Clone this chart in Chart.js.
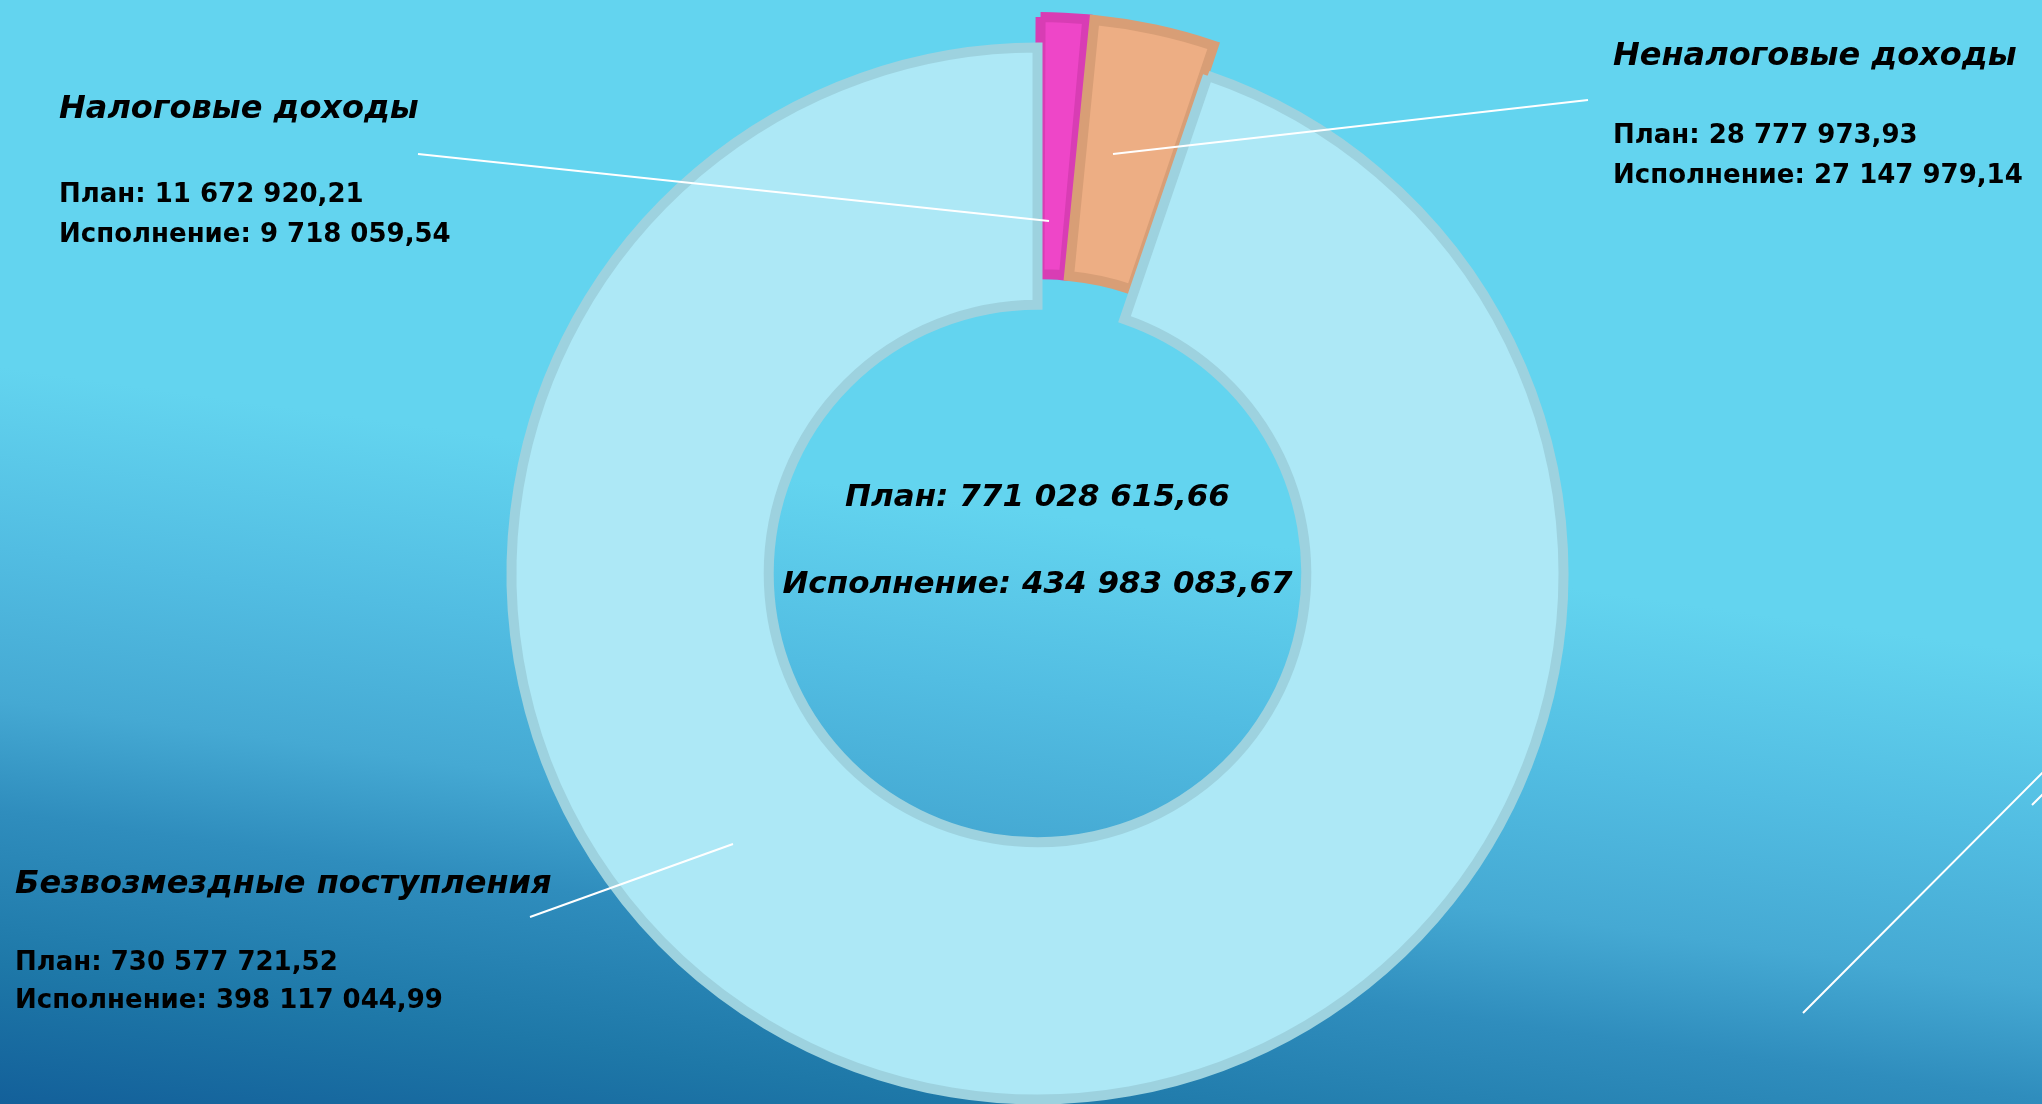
<!DOCTYPE html>
<html lang="ru">
<head>
<meta charset="utf-8">
<title>Доходы бюджета</title>
<script src="https://cdn.jsdelivr.net/npm/chart.js@4.4.1/dist/chart.umd.min.js"></script>
<style>
  html, body {
    margin: 0;
    padding: 0;
    width: 2042px;
    height: 1104px;
    overflow: hidden;
  }
  body {
    background: linear-gradient(188deg,
      #63d4ef 0%, #63d4ef 47%, #52bde2 60%, #45a9d3 71%, #2f8dbd 79%, #1e78a8 90%, #13609a 100%);
  }
  #wrap {
    position: absolute;
    left: 0;
    top: 0;
    width: 2042px;
    height: 1150px;
  }
</style>
</head>
<body>
<div id="wrap"><canvas id="revenue-chart" width="2042" height="1150"></canvas></div>
<script>
// Доходы: план и исполнение
const categories = ['Налоговые доходы', 'Неналоговые доходы', 'Безвозмездные поступления']
const planValues = [11672920.21, 28777973.93, 730577721.52]
const execValues = [9718059.54, 27147979.14, 398117044.99]

const fillColors = ['#ee46c8', '#edae84', '#ade8f6']
const borderColors = ['#d83db4', '#d89e76', '#9dd2df']
// chart.js moves an arc by roughly half of its offset
const sliceOffsets = [64, 69, 0]

const totalPlan = planValues.reduce((a, b) => a + b, 0)
const totalExec = execValues.reduce((a, b) => a + b, 0)

function fmt(value) {
  const parts = value.toFixed(2).split('.')
  return parts[0].replace(/\B(?=(\d{3})+(?!\d))/g, ' ') + ',' + parts[1]
}

const FONT = '"DejaVu Sans", "Noto Sans", sans-serif'

// label blocks: title + two lines, leader line from text to slice
const labelBlocks = [
  { x: 59, y: 118, gap: [84, 124], line: [418, 154, 1049, 221] },
  { x: 1613, y: 65, gap: [78, 118], line: [1588, 100, 1113, 154] },
  { x: 15, y: 893, gap: [77, 115], line: [530, 917, 733, 844] }
]

const annotations = {
  id: 'annotations',
  afterDraw(chart) {
    const ctx = chart.ctx
    const meta = chart.getDatasetMeta(0)
    const cx = meta.data[0].x
    const cy = meta.data[0].y
    ctx.save()

    // leader lines
    ctx.strokeStyle = '#ffffff'
    ctx.lineWidth = 2
    labelBlocks.forEach(b => {
      ctx.beginPath()
      ctx.moveTo(b.line[0], b.line[1])
      ctx.lineTo(b.line[2], b.line[3])
      ctx.stroke()
    })

    // decorative lines of the slide
    ctx.beginPath()
    ctx.moveTo(1803, 1013)
    ctx.lineTo(2062, 753)
    ctx.moveTo(2032, 805)
    ctx.lineTo(2052, 785)
    ctx.stroke()

    ctx.fillStyle = '#000000'
    ctx.textAlign = 'left'
    ctx.textBaseline = 'alphabetic'
    categories.forEach((name, i) => {
      const b = labelBlocks[i]
      ctx.font = 'italic bold 32px ' + FONT
      ctx.fillText(name, b.x, b.y)
      ctx.font = 'bold 26px ' + FONT
      ctx.fillText('План: ' + fmt(planValues[i]), b.x, b.y + b.gap[0])
      ctx.fillText('Исполнение: ' + fmt(execValues[i]), b.x, b.y + b.gap[1])
    })

    // totals in the hole
    ctx.textAlign = 'center'
    ctx.font = 'italic bold 31px ' + FONT
    ctx.fillText('План: ' + fmt(totalPlan), cx, cy - 68)
    ctx.fillText('Исполнение: ' + fmt(totalExec), cx, cy + 19)
    ctx.restore()
  }
}

new Chart(document.getElementById('revenue-chart').getContext('2d'), {
  type: 'doughnut',
  data: {
    labels: categories,
    datasets: [{
      data: planValues,
      backgroundColor: fillColors,
      borderColor: borderColors,
      borderWidth: 10,
      borderAlign: 'center',
      borderJoinStyle: 'miter',
      offset: sliceOffsets,
      hoverOffset: 0
    }]
  },
  options: {
    responsive: false,
    animation: false,
    cutout: '51.1%',
    layout: {
      padding: { left: 472, right: 439, top: 8, bottom: 11 }
    },
    plugins: {
      legend: { display: false },
      tooltip: { enabled: false }
    }
  },
  plugins: [annotations]
})
</script>
</body>
</html>
